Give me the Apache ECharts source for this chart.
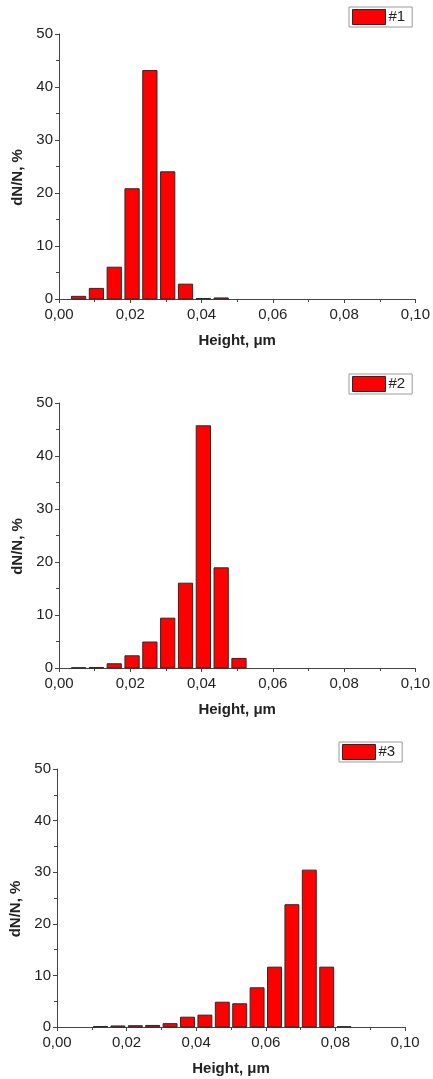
<!DOCTYPE html>
<html>
<head>
<meta charset="utf-8">
<script src="https://cdn.jsdelivr.net/npm/echarts@6/dist/echarts.min.js"></script>
<style>
html,body{margin:0;padding:0;background:#fff;}
#chart{width:433px;height:1079px;}
</style>
</head>
<body>
<div id="chart"></div>
<script>
// ---- data (bin centres in µm, dN/N in %) ----
const seriesNames = ['#1', '#2', '#3'];
const centers1 = [0.0055, 0.0105, 0.0155, 0.0205, 0.0255, 0.0305, 0.0355, 0.0405, 0.0455];
const values1  = [0.5,    2.0,    6.0,    20.8,   43.1,   24.0,   2.8,    0.1,    0.2];
const centers2 = [0.0055, 0.0105, 0.0155, 0.0205, 0.0255, 0.0305, 0.0355, 0.0405, 0.0455, 0.0505];
const values2  = [0.05,   0.1,    0.8,    2.3,    4.9,    9.4,    16.0,   45.7,   18.9,   1.8];
const centers3 = [0.0125, 0.0175, 0.0225, 0.0275, 0.0325, 0.0375, 0.0425, 0.0475, 0.0525, 0.0575, 0.0625, 0.0675, 0.0725, 0.0775, 0.0825];
const values3  = [0.1,    0.2,    0.25,   0.3,    0.65,   1.9,    2.3,    4.8,    4.5,    7.6,    11.6,   23.7,   30.4,   11.6,   0.05];
const binWidth = 0.005;
const xTickLabels = ['0,00', '0,02', '0,04', '0,06', '0,08', '0,10'];
const yTickLabels = ['0', '10', '20', '30', '40', '50'];
const xTitle = 'Height, \u03bcm';
const yTitle = 'dN/N, %';

const FONT = 'Arial, "Liberation Sans", sans-serif';
const AXC = '#444';
const TXC = '#222';

const grids = [
  {left: 59, top: 34, width: 358, height: 265},
  {left: 59, top: 403, width: 358, height: 265},
  {left: 56.5, top: 769, width: 348.5, height: 258}
];
const legendPos = [
  {left: 349, top: 7},
  {left: 349, top: 374},
  {left: 339, top: 742}
];
const allData = [
  centers1.map((c, i) => [c, values1[i]]),
  centers2.map((c, i) => [c, values2[i]]),
  centers3.map((c, i) => [c, values3[i]])
];

function renderItem(params, api) {
  const x = api.value(0), y = api.value(1);
  const half = binWidth * 0.4;
  const p0 = api.coord([x - half, 0]);
  const p1 = api.coord([x + half, y]);
  return {
    type: 'rect',
    shape: {x: p0[0], y: p1[1], width: p1[0] - p0[0], height: p0[1] - p1[1]},
    style: {fill: '#ff0000', stroke: '#2a2a2a', lineWidth: 1}
  };
}

const xAxes = grids.map((g, i) => ({
  type: 'value', gridIndex: i, min: 0, max: 0.1, interval: 0.02,
  name: xTitle, nameLocation: 'middle', nameGap: 34,
  nameTextStyle: {fontFamily: FONT, fontSize: 15, fontWeight: 'bold', color: TXC},
  axisLine: {show: true, onZero: false, lineStyle: {color: AXC, width: 1}},
  axisTick: {show: true, inside: false, length: 4, lineStyle: {color: AXC}},
  minorTick: {show: true, splitNumber: 2, length: 3, lineStyle: {color: AXC}},
  splitLine: {show: false},
  axisLabel: {fontFamily: FONT, fontSize: 15, color: TXC, margin: 8,
    formatter: v => xTickLabels[Math.round(v / 0.02)]}
}));
const yAxes = grids.map((g, i) => ({
  type: 'value', gridIndex: i, min: 0, max: 50, interval: 10,
  name: yTitle, nameLocation: 'middle', nameGap: 34,
  nameTextStyle: {fontFamily: FONT, fontSize: 15, fontWeight: 'bold', color: TXC, padding: [0, 22, 0, 0]},
  axisLine: {show: true, lineStyle: {color: AXC, width: 1}},
  axisTick: {show: true, inside: false, length: 4, lineStyle: {color: AXC}},
  minorTick: {show: true, splitNumber: 2, length: 3, lineStyle: {color: AXC}},
  splitLine: {show: false},
  axisLabel: {fontFamily: FONT, fontSize: 15, color: TXC, margin: 6,
    formatter: v => yTickLabels[Math.round(v / 10)]}
}));

const option = {
  animation: false,
  backgroundColor: '#fff',
  grid: grids,
  xAxis: xAxes,
  yAxis: yAxes,
  legend: legendPos.map((p, i) => ({
    left: p.left, top: p.top, orient: 'vertical',
    padding: [2, 7, 2, 3], itemWidth: 33, itemHeight: 15, itemGap: 0,
    borderColor: '#9a9a9a', borderWidth: 1, backgroundColor: '#fff',
    selectedMode: false,
    textStyle: {fontFamily: FONT, fontSize: 15, color: TXC, padding: [0, 0, 0, -2]},
    data: [{name: seriesNames[i], icon: 'rect',
      itemStyle: {color: '#ff0000', borderColor: '#2a2a2a', borderWidth: 1}}]
  })),
  series: allData.map((d, i) => ({
    type: 'custom', name: seriesNames[i],
    xAxisIndex: i, yAxisIndex: i,
    renderItem: renderItem,
    itemStyle: {color: '#ff0000', borderColor: '#2a2a2a', borderWidth: 1},
    encode: {x: 0, y: 1},
    data: d
  }))
};

const chart = echarts.init(document.getElementById('chart'), null, {renderer: 'canvas'});
chart.setOption(option);
</script>
</body>
</html>
